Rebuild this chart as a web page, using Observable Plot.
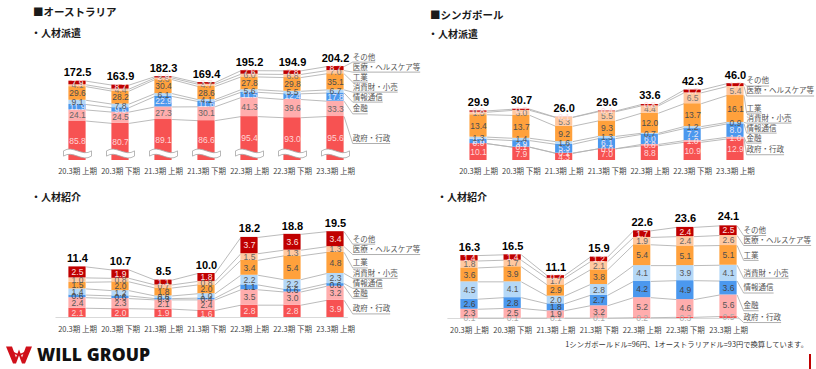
<!DOCTYPE html>
<html><head><meta charset="utf-8">
<script src="https://cdn.jsdelivr.net/npm/d3@7"></script>
<script src="https://cdn.jsdelivr.net/npm/@observablehq/plot@0.6"></script>
<style>
body{margin:0;background:#fff;}
#page{position:relative;width:816px;height:369px;overflow:hidden;font-family:"Noto Sans CJK JP","Noto Sans",sans-serif;background:#fff;}
#page svg{position:absolute;left:0;top:0;}
.t{position:absolute;font-weight:bold;color:#1a1a1a;white-space:nowrap;line-height:1;}
</style></head><body><div id="page">
<div class="t" style="left:33px;top:7px;font-size:10.5px;">■オーストラリア</div>
<div class="t" style="left:31px;top:28px;font-size:10px;">・人材派遣</div>
<div class="t" style="left:430px;top:10px;font-size:10.5px;">■シンガポール</div>
<div class="t" style="left:428px;top:29px;font-size:10px;">・人材派遣</div>
<div class="t" style="left:31px;top:192px;font-size:10px;">・人材紹介</div>
<div class="t" style="left:437px;top:192px;font-size:10px;">・人材紹介</div>
<div style="position:absolute;right:8px;top:341px;font-size:7.3px;color:#333;white-space:nowrap;line-height:1;">1シンガポールドル=96円、1オーストラリアドル=93円で換算しています。</div>
<div style="position:absolute;left:809px;top:354px;width:2px;height:15px;background:#c00000;"></div>
<div style="position:absolute;left:5px;top:343px;height:22px;display:flex;align-items:center;">
<svg width="28" height="21" viewBox="0 0 28 20" style="position:static"><path d="M1 2 L7 2 L11 13 L14 5 L17 13 L21 2 L27 2 L20 19 L17 19 L14 11 L11 19 L8 19 Z" fill="#d0101a"/><path d="M6 6 Q14 14 22 6" stroke="#d0101a" stroke-width="1.6" fill="none"/></svg>
<span style="margin-left:4px;font-family:'Open Sans','Noto Sans',sans-serif;font-weight:800;font-size:17.5px;color:#111;letter-spacing:0.1px;">WILL GROUP</span>
</div>
</div>
<script>
const periods = ["20.3期 上期","20.3期 下期","21.3期 上期","21.3期 下期","22.3期 上期","22.3期 下期","23.3期 上期"];
const industries = ["政府・行政","金融","情報通信","消費財・小売","工業","医療・ヘルスケア等","その他"];
const colors = ["#f75252","#ffadad","#4b98ee","#b5d8f7","#ffa13c","#ffc8a0","#c00000"];

// オーストラリア 人材派遣 (industries order, bottom to top)
const auDispatchGov   = [85.8,80.7,89.1,86.6,95.4,93.0,95.6];
const auDispatchFin   = [24.1,24.5,27.3,30.1,41.3,39.6,33.3];
const auDispatchIT    = [11.9,9.6,22.9,11.6,11.5,12.4,17.8];
const auDispatchCons  = [9.1,7.8,6.1,4.1,5.6,5.5,6.7];
const auDispatchInd   = [29.6,28.2,30.4,28.6,27.8,29.8,35.1];
const auDispatchMed   = [4.1,4.4,3.6,4.7,6.0,6.8,7.0];
const auDispatchOther = [7.9,8.7,2.9,3.7,7.6,7.8,8.7];
const auDispatchTotal = [172.5,163.9,182.3,169.4,195.2,194.9,204.2];

// シンガポール 人材派遣
const sgDispatchGov   = [10.1,7.9,4.3,7.0,8.8,10.9,12.9];
const sgDispatchFin   = [0.0,0.1,0.1,0.0,0.8,1.0,1.0];
const sgDispatchIT    = [2.6,3.9,5.3,6.1,6.0,7.2,8.0];
const sgDispatchCons  = [1.3,1.4,1.6,1.3,0.7,1.2,0.9];
const sgDispatchInd   = [13.4,13.7,9.2,9.3,12.0,13.7,16.1];
const sgDispatchMed   = [1.5,3.0,5.3,5.5,4.4,6.5,5.4];
const sgDispatchOther = [0.8,0.7,0.1,0.4,0.8,1.7,1.7];
const sgDispatchTotal = [29.9,30.7,26.0,29.6,33.6,42.3,46.0];

// オーストラリア 人材紹介
const auPlacementGov   = [2.1,2.0,1.9,1.6,2.8,2.8,3.9];
const auPlacementFin   = [2.4,2.3,2.1,2.4,3.5,3.0,3.2];
const auPlacementIT    = [0.6,0.6,0.3,0.4,1.1,0.6,0.6];
const auPlacementCons  = [1.4,1.2,0.6,1.0,2.2,2.2,2.3];
const auPlacementInd   = [1.5,2.0,1.8,2.0,3.4,5.4,4.8];
const auPlacementMed   = [1.0,0.8,0.7,0.8,1.5,1.3,1.3];
const auPlacementOther = [2.5,1.9,1.1,1.8,3.7,3.6,3.4];
const auPlacementTotal = [11.4,10.7,8.5,10.0,18.2,18.8,19.5];

// シンガポール 人材紹介
const sgPlacementGov   = [0.1,0.1,0.1,0.1,0.2,0.3,0.5];
const sgPlacementFin   = [2.3,2.5,1.9,3.2,5.2,4.6,5.6];
const sgPlacementIT    = [2.6,2.8,1.8,2.7,4.2,4.9,3.6];
const sgPlacementCons  = [4.5,4.1,2.0,2.8,4.1,3.9,4.1];
const sgPlacementInd   = [3.6,3.9,2.9,3.8,5.4,5.1,5.1];
const sgPlacementMed   = [1.8,1.7,1.7,2.1,1.9,2.4,2.6];
const sgPlacementOther = [1.4,1.4,0.7,1.2,1.7,2.4,2.5];
const sgPlacementTotal = [16.3,16.5,11.1,15.9,22.6,23.6,24.1];

const numFont = "'Liberation Sans',Arial,sans-serif";
const segFont = "'Liberation Sans',Arial,sans-serif";
const cjkFont = "'Noto Sans CJK JP','Noto Sans',sans-serif";

const waveSymbol = {
  draw(ctx) {
    const w = 14, a = 3.2, g = 2.6;
    ctx.moveTo(-w, -g);
    ctx.bezierCurveTo(-w/3, -g - 2*a, w/3, -g + 2*a, w, -g);
    ctx.lineTo(w, g);
    ctx.bezierCurveTo(w/3, g + 2*a, -w/3, g - 2*a, -w, g);
    ctx.closePath();
  }
};

function panel(cfg) {
  const {series, totals, x0, x1, zero, k, legendX, gapPx, labelFill, wave, baseline, axisDy} = cfg;
  const n = periods.length, hw = 0.2;
  const rows = [], tops = industries.map(() => []);
  periods.forEach((p, i) => {
    let acc = 0;
    industries.forEach((name, j) => {
      const v = series[j][i];
      rows.push({i, j, name, v, y1: acc, y2: acc + v});
      acc += v;
      tops[j][i] = acc;
    });
  });
  const links = [];
  industries.forEach((name, j) => {
    for (let i = 0; i < n - 1; i++) links.push({x1: i + hw, x2: i + 1 - hw, y1: tops[j][i], y2: tops[j][i + 1]});
  });
  let prevPx = Infinity;
  const legend = rows.filter(r => r.i === n - 1).map(r => {
    let px = zero - ((r.y1 + r.y2) / 2) * k;
    px = Math.min(px, prevPx - gapPx);
    prevPx = px;
    const y = (zero - px) / k;
    const uy = (zero - px - 5) / k;
    const w = r.name.length * 7.5 / ((x1 - x0) / 7);
    return {name: r.name, y, uy, w, y0: r.y2};
  });
  const marks = [];
  if (baseline) marks.push(Plot.ruleY([0], {x1: -0.5, x2: legendX - 0.1, stroke: "#d9d9d9", strokeWidth: 1}));
  marks.push(
    Plot.link(links, {x1: "x1", y1: "y1", x2: "x2", y2: "y2", stroke: "#b3b3b3", strokeWidth: 0.9}),
    Plot.link(legend, {x1: n - 1 + hw, y1: "y0", x2: legendX, y2: "uy", stroke: "#b3b3b3", strokeWidth: 0.9}),
    Plot.link(legend, {x1: legendX, y1: "uy", x2: d => legendX + d.w, y2: "uy", stroke: "#9a9a9a", strokeWidth: 0.8}),
    Plot.rect(rows, {x1: d => d.i - hw, x2: d => d.i + hw, y1: "y1", y2: "y2", fill: d => colors[d.j]})
  );
  if (wave) marks.push(Plot.dot(periods, {x: (d, i) => i, y: 7 / k, symbol: waveSymbol, r: 5, fill: "white", stroke: "#a6a6a6", strokeWidth: 0.8}));
  marks.push(
    Plot.text(rows, {x: "i", y: d => (d.y1 + d.y2) / 2, text: d => d.v.toFixed(1), fill: d => labelFill[d.j], fontSize: 8.5, fontFamily: segFont}),
    Plot.text(totals, {x: (d, i) => i, y: d => d, text: d => d.toFixed(1), lineAnchor: "bottom", dy: -5, fontSize: 11, fontWeight: "bold", fill: "#000", fontFamily: numFont}),
    Plot.text(periods, {x: (d, i) => i, y: 0, dy: axisDy, text: d => d, fontSize: 7.5, fill: "#444", fontFamily: cjkFont}),
    Plot.text(legend, {x: legendX, y: "y", text: "name", textAnchor: "start", fontSize: 7.5, fill: "#555", fontFamily: cjkFont})
  );
  const svg = Plot.plot({
    width: 816, height: 369,
    marginTop: 0, marginBottom: 0, marginLeft: 0, marginRight: 0,
    style: {background: "transparent", overflow: "visible"},
    x: {domain: [-0.5, 6.5], range: [x0, x1], axis: null},
    y: {domain: [0, zero / k], range: [zero, 0], axis: null},
    marks
  });
  document.getElementById("page").appendChild(svg);
}

const dispFill = ["#ffd6d6","#666","#e6e6f5","#555","#4d4d4d","#777","#ffe0e0"];
panel({
  series: [auDispatchGov, auDispatchFin, auDispatchIT, auDispatchCons, auDispatchInd, auDispatchMed, auDispatchOther],
  totals: auDispatchTotal, x0: 55.5, x1: 356.5, zero: 160, k: 0.46, legendX: 6.4, gapPx: 10,
  labelFill: dispFill, wave: true, baseline: false, axisDy: 11
});
panel({
  series: [sgDispatchGov, sgDispatchFin, sgDispatchIT, sgDispatchCons, sgDispatchInd, sgDispatchMed, sgDispatchOther],
  totals: sgDispatchTotal, x0: 456.6, x1: 756.4, zero: 160, k: 1.67, legendX: 6.26, gapPx: 10,
  labelFill: ["#ffd6d6","#ffe0e0","#e6e6f5","#555","#4d4d4d","#777","#ffe0e0"], wave: false, baseline: false, axisDy: 11
});
panel({
  series: [auPlacementGov, auPlacementFin, auPlacementIT, auPlacementCons, auPlacementInd, auPlacementMed, auPlacementOther],
  totals: auPlacementTotal, x0: 55.5, x1: 356.5, zero: 317, k: 4.4, legendX: 6.4, gapPx: 10,
  labelFill: ["#ffd6d6","#555","#444","#555","#4d4d4d","#666","#ffe0e0"], wave: false, baseline: true, axisDy: 12
});
panel({
  series: [sgPlacementGov, sgPlacementFin, sgPlacementIT, sgPlacementCons, sgPlacementInd, sgPlacementMed, sgPlacementOther],
  totals: sgPlacementTotal, x0: 447.4, x1: 749.6, zero: 318, k: 3.86, legendX: 6.35, gapPx: 10,
  labelFill: ["#aaa","#555","#444","#555","#4d4d4d","#666","#ffe0e0"], wave: false, baseline: true, axisDy: 12
});
</script>
</body></html>
